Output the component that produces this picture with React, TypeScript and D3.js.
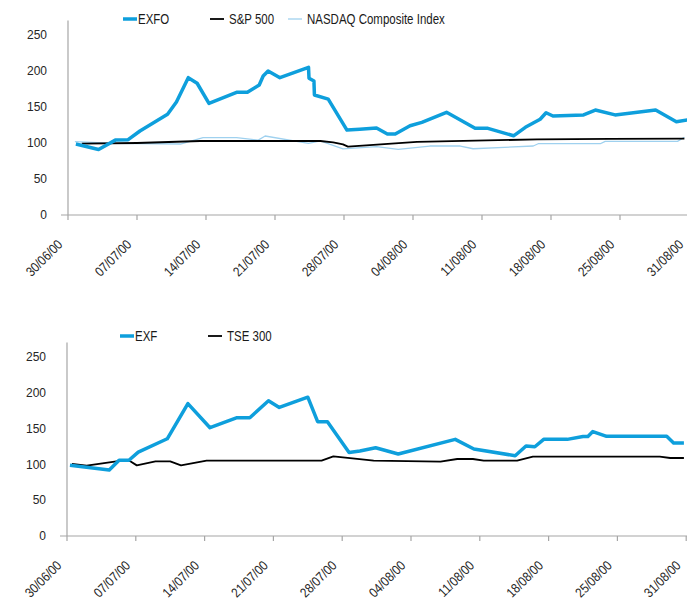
import React, { useEffect, useRef } from 'react';
import * as d3 from 'd3';

// days after 30/06/00 where the category ticks fall, and their labels
const tickDays = [0, 7, 14, 21, 28, 35, 42, 49, 56, 62];
const tickLabels = ['30/06/00', '07/07/00', '14/07/00', '21/07/00', '28/07/00', '04/08/00', '11/08/00', '18/08/00', '25/08/00', '31/08/00'];
const yTicks = [0, 50, 100, 150, 200, 250];

// [day offset, indexed value]
const exfo: [number, number][] = [
  [0.8, 98.6], [3.1, 91], [4.8, 104], [6.1, 104.6], [7.3, 116.7], [10.1, 139.8], [11, 157], [12.2, 190.7],
  [13.1, 183], [14.3, 155], [17.1, 170.4], [18.2, 170.4], [19.4, 180.5], [19.8, 193], [20.3, 200], [21.5, 190.7],
  [24.4, 205], [24.45, 190], [24.95, 186], [25, 166.7], [26.4, 161], [28.3, 118], [29.6, 119], [31.3, 120.8],
  [32.4, 112.5], [33.2, 112.5], [34.7, 124], [35.9, 128.7], [38.4, 142.6], [41.3, 120.4], [42.6, 120.4],
  [45.2, 110], [46.4, 121.8], [47.9, 133], [48.5, 142], [49.2, 137.5], [52.3, 139], [53.5, 145.8], [55.5, 139],
  [59.1, 145.8], [60.9, 129.6], [61.9, 132],
];
const sp500: [number, number][] = [
  [1.4, 99], [7, 100], [13.4, 102.8], [25.6, 102.8], [26.9, 101], [27.9, 98], [28.4, 95], [35.4, 101.5],
  [47.6, 105], [55, 105.6], [61.6, 106],
];
const nasdaq: [number, number][] = [
  [0.7, 101.8], [4.8, 99.5], [11.4, 98.6], [13.7, 107.4], [17.1, 107.4], [19.3, 104], [20, 109.7], [24.4, 99.6],
  [25.6, 103], [26.6, 98], [27.9, 91.7], [31.3, 95], [33.5, 91.2], [36.7, 95.8], [39.8, 95.8], [41.1, 92],
  [47.2, 95.8], [47.7, 99], [54, 99], [54.5, 102.3], [61, 102.3], [61.6, 108],
];
const exf: [number, number][] = [
  [0.3, 98.6], [4.3, 92], [5.3, 105.6], [6.3, 105.6], [7.25, 117], [10.2, 135.6], [12.3, 184.7], [14.55, 151],
  [17.3, 165], [18.6, 165], [20.5, 188.7], [21.6, 179.3], [24.5, 193.6], [25.5, 159.4], [26.5, 159.4],
  [28.7, 116.5], [29.8, 118.5], [31.4, 123], [33.7, 114.4], [39.5, 134.8], [41.4, 121.3], [45.6, 112],
  [46.7, 125.5], [47.6, 124.5], [48.5, 134.8], [50.9, 134.8], [52.5, 138.9], [53, 138.9], [53.5, 145.7],
  [54.9, 139], [60.3, 139], [60.9, 129.6], [61.8, 129.6],
];
const tse300: [number, number][] = [
  [0.5, 100.4], [2, 98], [5.2, 104.5], [6.4, 104.5], [7.1, 98.5], [9, 104], [10.5, 104], [11.6, 98.5],
  [14.2, 105], [25.9, 105], [27.1, 111], [28.8, 108.5], [31.2, 105], [38, 103.6], [39.7, 107.4], [41.3, 107.4],
  [42.4, 105], [45.8, 105], [47.4, 110.6], [59.7, 110.6], [60.6, 108.8], [61.8, 108.8],
];

const BLUE = '#0e9fdc';
const LIGHT = '#9fd1ef';
// no narrow face installed, so squeeze Liberation Sans horizontally
const font = '"Liberation Sans", Arial, sans-serif';
const squeeze = 0.82;

interface SeriesDef { name: string; data: [number, number][]; color: string; width: number; legendX: number; }
interface PanelDef { left: number; step: number; base: number; perUnit: number; legendY: number; series: SeriesDef[]; }

const panels: PanelDef[] = [
  {
    left: 68, step: 69, base: 215, perUnit: 0.72, legendY: 19,
    series: [
      { name: 'NASDAQ Composite Index', data: nasdaq, color: LIGHT, width: 1.3, legendX: 288 },
      { name: 'S&P 500', data: sp500, color: '#000', width: 1.8, legendX: 210 },
      { name: 'EXFO', data: exfo, color: BLUE, width: 3.5, legendX: 123 },
    ],
  },
  {
    left: 67, step: 68.8, base: 536, perUnit: 0.717, legendY: 336,
    series: [
      { name: 'TSE 300', data: tse300, color: '#000', width: 1.8, legendX: 208 },
      { name: 'EXF', data: exf, color: BLUE, width: 3.5, legendX: 120 },
    ],
  },
];

const App: React.FC = () => {
  const svgRef = useRef<SVGSVGElement>(null);

  useEffect(() => {
    if (!svgRef.current) return;
    const svg = d3.select(svgRef.current);
    svg.selectAll('*').remove();

    panels.forEach(p => {
      const g = svg.append('g');
      const x = d3.scaleLinear()
        .domain(tickDays)
        .range(tickDays.map((_, i) => p.left + i * p.step));
      const y = d3.scaleLinear().domain([0, 270]).range([p.base, p.base - 270 * p.perUnit]);

      // axes
      g.append('line')
        .attr('x1', p.left).attr('x2', p.left)
        .attr('y1', y(0)).attr('y2', y(270))
        .attr('stroke', '#a6a6a6').attr('stroke-width', 1.2);
      g.append('line')
        .attr('x1', p.left - 7).attr('x2', 687)
        .attr('y1', y(0)).attr('y2', y(0))
        .attr('stroke', '#a6a6a6').attr('stroke-width', 1.2);

      g.selectAll('.xtick').data(tickDays).enter().append('line')
        .attr('x1', d => x(d)).attr('x2', d => x(d))
        .attr('y1', y(0)).attr('y2', y(0) + 5)
        .attr('stroke', '#a6a6a6').attr('stroke-width', 1.2);

      g.selectAll('.xlab').data(tickDays).enter().append('text')
        .attr('transform', d => `translate(${x(d) - 8},${y(0) + 27}) rotate(-45) scale(0.86,1)`)
        .attr('text-anchor', 'end')
        .attr('dy', '0.35em')
        .style('font-family', font)
        .style('font-size', '13.5px')
        .attr('fill', '#262626')
        .text((_, i) => tickLabels[i]);

      g.selectAll('.ylab').data(yTicks).enter().append('text')
        .attr('x', p.left - 21)
        .attr('y', d => y(d))
        .attr('dy', '0.35em')
        .attr('text-anchor', 'end')
        .style('font-family', font)
        .style('font-size', '12px')
        .attr('fill', '#262626')
        .text(d => d);

      const line = d3.line<[number, number]>()
        .x(d => x(d[0]))
        .y(d => y(d[1]));

      p.series.forEach(s => {
        g.append('path')
          .datum(s.data)
          .attr('d', line)
          .attr('fill', 'none')
          .attr('stroke', s.color)
          .attr('stroke-width', s.width)
          .attr('stroke-linejoin', 'round');

        // legend
        g.append('line')
          .attr('x1', s.legendX).attr('x2', s.legendX + 14)
          .attr('y1', p.legendY).attr('y2', p.legendY)
          .attr('stroke', s.color).attr('stroke-width', s.width);
        g.append('text')
          .attr('transform', `translate(${s.legendX + (s.width > 3 ? 15 : 19)},${p.legendY + 5}) scale(${squeeze},1)`)
          .style('font-family', font)
          .style('font-size', '14px')
          .attr('fill', '#1a1a1a')
          .text(s.name);
      });
    });
  }, []);

  return (
    <div style={{ position: 'absolute', left: 0, top: 0, background: '#fff' }}>
      <svg ref={svgRef} width={687} height={601} />
    </div>
  );
};

export default App;
